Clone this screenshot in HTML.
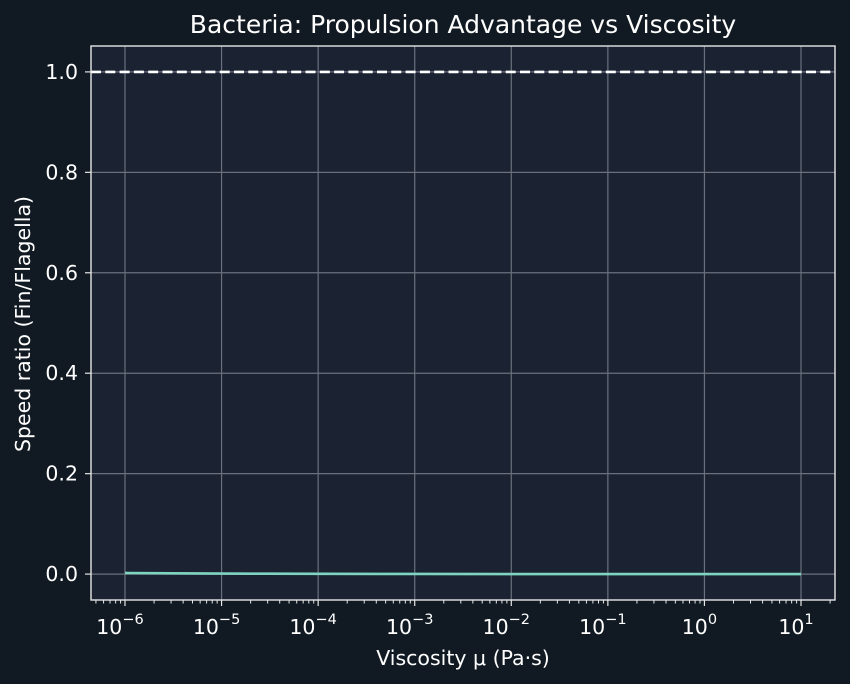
<!DOCTYPE html>
<html><head><meta charset="utf-8"><style>
html,body{margin:0;padding:0;background:#111a22;}
svg{display:block;font-family:"DejaVu Sans","Liberation Sans",sans-serif;}
</style></head><body>
<svg id="chart" width="850" height="684" xmlns="http://www.w3.org/2000/svg"></svg>
<script>
const xExp = [-6,-5.5,-5,-4.5,-4,-3,-2,-1,0,1];
const ratio = [0.0022,0.0016,0.0011,0.0007,0.0005,0.0002,0.0001,0.00005,0.00002,0.00001];
const yTicks = [0.0,0.2,0.4,0.6,0.8,1.0];
const yTickLabels = ["0.0","0.2","0.4","0.6","0.8","1.0"];
const xTickExp = [-6,-5,-4,-3,-2,-1,0,1];
const refLine = [1.0];

const L=91,R=835,T=46,B=600;
const xmin=-6.352,xmax=1.352,ymin=-0.0516,ymax=1.0516;
const sx=e=>L+(e-xmin)/(xmax-xmin)*(R-L);
const sy=v=>B-(v-ymin)/(ymax-ymin)*(B-T);
const svg=document.getElementById('chart');
const NS='http://www.w3.org/2000/svg';
function mk(tag,attrs,parent){const el=document.createElementNS(NS,tag);for(const k in attrs)el.setAttribute(k,attrs[k]);(parent||svg).appendChild(el);return el;}

let bg=mk('rect',{x:L,y:T,width:R-L,height:B-T,fill:'#1b2333'});



xTickExp.forEach(e=>{let g=mk('line',{x1:sx(e),x2:sx(e),y1:T,y2:B,stroke:'#6a717d','stroke-width':1.2});

});
yTicks.forEach(v=>{let g=mk('line',{x1:L,x2:R,y1:sy(v),y2:sy(v),stroke:'#6a717d','stroke-width':1.2});

});

refLine.forEach(v=>{let d=mk('line',{x1:L,x2:R,y1:sy(v),y2:sy(v),stroke:'#ffffff','stroke-width':2.6,'stroke-dasharray':'10,4.3'});

});

let pts=xExp.map((e,i)=>sx(e)+','+sy(ratio[i])).join(' ');
let pl=mk('polyline',{points:pts,fill:'none',stroke:'#7fd3c1','stroke-width':2.6});



let fr=mk('rect',{x:L,y:T,width:R-L,height:B-T,fill:'none',stroke:'#e6e6e6','stroke-width':1.4});



yTicks.forEach((v,i)=>{
 mk('line',{x1:L-6,x2:L,y1:sy(v),y2:sy(v),stroke:'#e6e6e6','stroke-width':1.2});
 let t=mk('text',{x:L-13,y:sy(v)+7,'text-anchor':'end',fill:'#ffffff','font-size':20.5});
 t.textContent=yTickLabels[i];
 
 
});
xTickExp.forEach(e=>{
 mk('line',{x1:sx(e),x2:sx(e),y1:B,y2:B+6,stroke:'#e6e6e6','stroke-width':1.2});
 let t=mk('text',{x:sx(e)-5,y:B+34,'text-anchor':'middle',fill:'#ffffff','font-size':20.5});
 t.textContent='10';
 let s=mk('tspan',{dy:-10,'font-size':14.5},t);
 s.textContent=(e<0?'\u2212':'')+Math.abs(e);
 
 
});
for(let d=-7;d<=1;d++){for(let k=2;k<=9;k++){const e=d+Math.log10(k);if(e<xmin||e>xmax)continue;
 mk('line',{x1:sx(e),x2:sx(e),y1:B,y2:B+3.5,stroke:'#e6e6e6','stroke-width':1});}}

let title=mk('text',{x:463,y:33,'text-anchor':'middle',fill:'#ffffff','font-size':25});
title.textContent='Bacteria: Propulsion Advantage vs Viscosity';


let xl=mk('text',{x:463,y:665,'text-anchor':'middle',fill:'#ffffff','font-size':20.5});
xl.textContent='Viscosity \u03bc (Pa\u00b7s)';


let yl=mk('text',{x:30,y:324,'text-anchor':'middle',fill:'#ffffff','font-size':20.5,transform:'rotate(-90 30 324)'});
yl.textContent='Speed ratio (Fin/Flagella)';


</script>
</body></html>
